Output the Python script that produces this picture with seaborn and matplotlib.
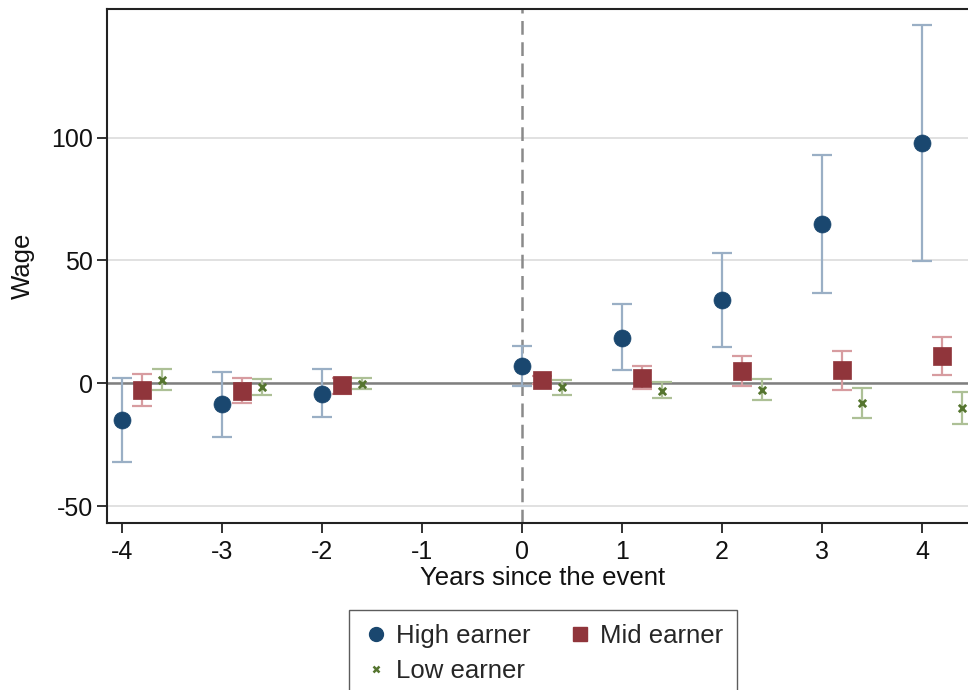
import numpy as np
import pandas as pd
import matplotlib
matplotlib.use('Agg')
import matplotlib.pyplot as plt
import seaborn as sns

# Event-time coefficients with 95% CIs
years = [-4, -3, -2, 0, 1, 2, 3, 4]

high_est = [-15.0, -8.5, -4.2, 7.0, 18.6, 33.8, 65.0, 98.0]
high_lo = [-32.0, -21.8, -13.7, -1.1, 5.3, 14.8, 36.6, 49.6]
high_hi = [2.0, 4.6, 5.7, 15.2, 32.2, 53.0, 93.0, 146.0]

mid_est = [-2.7, -3.1, -0.9, 1.2, 2.3, 5.0, 5.3, 11.1]
mid_lo = [-9.2, -8.0, -4.2, -0.5, -2.2, -1.1, -2.7, 3.4]
mid_hi = [3.9, 2.0, 2.0, 3.0, 7.0, 11.0, 13.1, 19.0]

low_est = [1.4, -1.6, -0.1, -1.6, -3.1, -2.6, -8.1, -9.9]
low_lo = [-2.7, -4.9, -2.2, -4.6, -6.2, -6.8, -14.2, -16.4]
low_hi = [5.7, 1.9, 2.3, 1.5, 0.5, 1.8, -1.8, -3.4]

groups = ['High earner', 'Mid earner', 'Low earner']
offsets = [0.0, 0.2, 0.4]

rows = []
for g, off, est, lo, hi in zip(groups, offsets,
                               [high_est, mid_est, low_est],
                               [high_lo, mid_lo, low_lo],
                               [high_hi, mid_hi, low_hi]):
    for yr, e, l, h in zip(years, est, lo, hi):
        rows.append({'group': g, 'xpos': yr + off, 'est': e, 'lo': l, 'hi': h})
df = pd.DataFrame(rows)

sns.set_theme(style='white')
plt.rcParams['font.family'] = ['Liberation Sans', 'DejaVu Sans']
plt.rcParams['axes.unicode_minus'] = False

colors = {'High earner': '#1a476f', 'Mid earner': '#90353b', 'Low earner': '#55752f'}
ci_colors = {'High earner': '#9aafc5', 'Mid earner': '#d79ca0', 'Low earner': '#adc096'}
markers = {'High earner': 'o', 'Mid earner': 's', 'Low earner': 'x'}
sizes = {'High earner': 150, 'Mid earner': 180, 'Low earner': 28}

fig = plt.figure(figsize=(9.68, 6.9), dpi=100)
ax = fig.add_axes([0.1105, 0.2420, 0.9009, 0.7450])

# reference lines
ax.axhline(0, color='#7f7f7f', lw=1.8, zorder=1)
ax.axvline(0, color='#8a8a8a', lw=1.8, ls=(0, (5.5, 3)), zorder=1)

for g in groups:
    sub = df[df['group'] == g]
    ax.errorbar(sub['xpos'], sub['est'],
                yerr=[sub['est'] - sub['lo'], sub['hi'] - sub['est']],
                fmt='none', ecolor=ci_colors[g], elinewidth=1.6,
                capsize=7, capthick=1.6, zorder=2)
    sns.scatterplot(data=sub, x='xpos', y='est', ax=ax, color=colors[g],
                    marker=markers[g], s=sizes[g],
                    edgecolor=colors[g] if g != 'Low earner' else None,
                    linewidth=0.5 if g != 'Low earner' else 2.0,
                    zorder=3, legend=False)

ax.set_xlim(-4.15, 4.57)
ax.set_ylim(-56.9, 152.4)
ax.set_xticks([-4, -3, -2, -1, 0, 1, 2, 3, 4])
ax.set_yticks([-50, 0, 50, 100])
ax.yaxis.grid(True, color='#dcdcdc', lw=1.2)
ax.set_axisbelow(True)

for side in ['left', 'bottom', 'top']:
    ax.spines[side].set_color('#222222')
    ax.spines[side].set_linewidth(1.5)
ax.spines['right'].set_visible(False)

ax.tick_params(axis='both', which='both', direction='out', length=7, width=1.3,
               color='#222222', labelsize=18, labelcolor='#111111',
               bottom=True, left=True, pad=3)
ax.tick_params(axis='x', pad=5)

ax.set_xlabel('Years since the event', fontsize=18.5, color='#111111', labelpad=2)
ax.set_ylabel('Wage', fontsize=18.5, color='#111111', labelpad=12)

# legend: High / Mid on first row, Low on second (column-major order)
handles = {
    'High earner': plt.Line2D([], [], ls='none', marker='o', color=colors['High earner'], markersize=10),
    'Mid earner': plt.Line2D([], [], ls='none', marker='s', color=colors['Mid earner'], markersize=10),
    'Low earner': plt.Line2D([], [], ls='none', marker='x', color=colors['Low earner'],
                             markersize=5, markeredgewidth=1.8),
}
order = ['High earner', 'Low earner', 'Mid earner']
fig.legend([handles[k] for k in order], order, loc='upper center',
           bbox_to_anchor=(543 / 968, 1 - 610 / 690), borderaxespad=0,
           ncol=2, frameon=True, fancybox=False, edgecolor='#333333',
           fontsize=18.5, handletextpad=0.3, columnspacing=1.4, borderpad=0.55,
           labelspacing=0.42, handlelength=1.0)

fig.savefig('out.png', dpi=100)
